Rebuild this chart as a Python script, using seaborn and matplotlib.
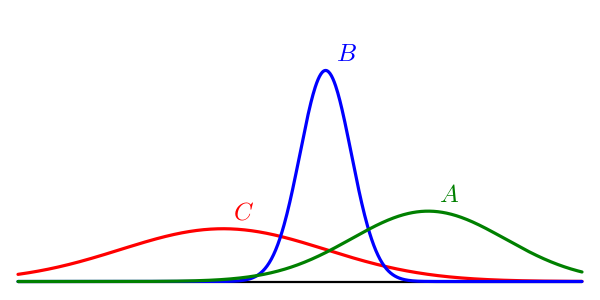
import numpy as np
import pandas as pd
import matplotlib
matplotlib.use("Agg")
import matplotlib.pyplot as plt
import seaborn as sns

# Distribution parameters
names = ["C", "B", "A"]
means = [-2.0, 0.0, 2.0]
sds = [2.0, 0.5, 1.5]
colors = ["#ff0000", "#0000ff", "#008000"]
x_min, x_max = -6.0, 5.0

sns.set_style("white")
plt.rcParams["mathtext.fontset"] = "cm"

xs = np.linspace(x_min, x_max, 800)
frames = []
for n, m, s in zip(names, means, sds):
    y = np.exp(-0.5 * ((xs - m) / s) ** 2) / (s * np.sqrt(2 * np.pi))
    frames.append(pd.DataFrame({"x": xs, "y": y, "name": n}))
df = pd.concat(frames, ignore_index=True)

fig = plt.figure(figsize=(6, 3), dpi=100)
ax = fig.add_axes([18 / 600, 18.5 / 300, 564 / 600, 281.5 / 300])
ax.axhline(0, color="black", lw=1.6, zorder=1, clip_on=False)
sns.lineplot(data=df, x="x", y="y", hue="name", hue_order=names,
             palette=dict(zip(names, colors)), lw=2.3, legend=False,
             ax=ax, sort=False)
for line in ax.get_lines():
    line.set_clip_on(False)

for n, m, s, c in zip(names, means, sds, colors):
    peak = 1 / (s * np.sqrt(2 * np.pi))
    ax.text(m + 0.4, peak + 0.062, f"${n}$", color=c, fontsize=18,
            ha="center", va="center")

ax.set_xlim(x_min, x_max)
ax.set_ylim(0, 281.5 / 264.5)
ax.set_axis_off()
fig.savefig("out.png", dpi=100)
